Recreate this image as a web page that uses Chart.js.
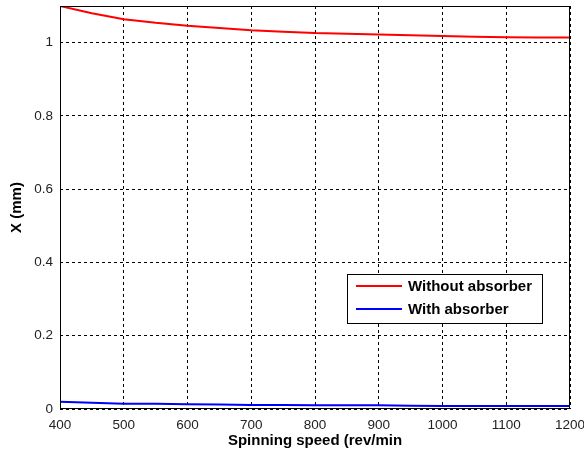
<!DOCTYPE html>
<html>
<head>
<meta charset="utf-8">
<script src="https://cdn.jsdelivr.net/npm/chart.js@4/dist/chart.umd.min.js"></script>
<style>
  html, body { margin: 0; padding: 0; background: #fff; }
  #wrap { width: 584px; height: 452px; }
</style>
</head>
<body>
<div id="wrap"><canvas id="chart"></canvas></div>
<script>
// spinning speed (rev/min)
const speeds = [400, 450, 500, 550, 600, 650, 700, 750, 800, 850, 900, 950, 1000, 1050, 1100, 1150, 1200];
// displacement X (mm)
const withoutAbsorber = [1.100, 1.080, 1.064, 1.054, 1.046, 1.040, 1.034, 1.030, 1.026, 1.024, 1.022, 1.020, 1.018, 1.016, 1.015, 1.014, 1.014];
const withAbsorber = [0.020, 0.017, 0.014, 0.014, 0.013, 0.012, 0.011, 0.011, 0.010, 0.010, 0.010, 0.009, 0.008, 0.008, 0.008, 0.008, 0.008];

const xTicks = [400, 500, 600, 700, 800, 900, 1000, 1100, 1200];
const yTicks = [0, 0.2, 0.4, 0.6, 0.8, 1];

const tickFont = { family: "Arial, 'Liberation Sans', sans-serif", size: 13.5 };
const boldFont = { family: "Arial, 'Liberation Sans', sans-serif", size: 15, weight: "bold" };

// box around the axes plus a legend inside, MATLAB style
const frameAndLegend = {
  id: "frameAndLegend",
  afterDraw(chart) {
    const { ctx, chartArea: a } = chart;
    ctx.save();
    ctx.strokeStyle = "#000";
    ctx.lineWidth = 1;
    ctx.strokeRect(a.left + 0.5, a.top + 0.5, a.right - a.left - 1, a.bottom - a.top - 1);

    const box = { x: 347, y: 274, w: 195, h: 49 };
    ctx.fillStyle = "#fff";
    ctx.fillRect(box.x, box.y, box.w, box.h);
    ctx.strokeRect(box.x + 0.5, box.y + 0.5, box.w, box.h);

    ctx.font = `bold ${boldFont.size}px ${boldFont.family}`;
    ctx.textBaseline = "middle";
    chart.data.datasets.forEach((ds, i) => {
      const y = box.y + 12 + i * 23;
      ctx.strokeStyle = ds.borderColor;
      ctx.lineWidth = 2;
      ctx.beginPath();
      ctx.moveTo(box.x + 9, y);
      ctx.lineTo(box.x + 55, y);
      ctx.stroke();
      ctx.fillStyle = "#000";
      ctx.fillText(ds.label, box.x + 61, y + 1);
    });
    ctx.restore();
  },
};

new Chart(document.getElementById("chart"), {
  type: "line",
  data: {
    labels: speeds,
    datasets: [
      {
        label: "Without absorber",
        data: withoutAbsorber,
        borderColor: "#ff0000",
        borderWidth: 2,
        pointRadius: 0,
        tension: 0,
      },
      {
        label: "With absorber",
        data: withAbsorber,
        borderColor: "#0000ff",
        borderWidth: 2,
        pointRadius: 0,
        tension: 0,
      },
    ],
  },
  options: {
    responsive: true,
    maintainAspectRatio: false,
    animation: false,
    events: [],
    layout: { padding: { top: 6, right: 14, left: 0, bottom: 0 } },
    plugins: {
      legend: { display: false },
      tooltip: { enabled: false },
    },
    scales: {
      x: {
        type: "linear",
        min: 400,
        max: 1200,
        afterBuildTicks: (scale) => {
          scale.ticks = xTicks.map((v) => ({ value: v }));
        },
        afterFit: (scale) => {
          scale.height = 43;
          scale.paddingLeft = 0;
          scale.paddingRight = 0;
        },
        grid: { color: "#000", lineWidth: 1, drawTicks: false },
        border: { display: false, dash: [3, 3] },
        ticks: {
          font: tickFont,
          color: "#222",
          padding: 8,
          maxRotation: 0,
          callback: (v) => String(v),
        },
        title: {
          display: true,
          text: "Spinning speed (rev/min",
          font: boldFont,
          color: "#000",
          padding: { top: 0, bottom: 2 },
        },
      },
      y: {
        min: 0,
        max: 1.1,
        afterBuildTicks: (scale) => {
          scale.ticks = yTicks.map((v) => ({ value: v }));
        },
        afterFit: (scale) => {
          scale.width = 60;
          scale.paddingTop = 0;
          scale.paddingBottom = 0;
        },
        grid: { color: "#000", lineWidth: 1, drawTicks: false },
        border: { display: false, dash: [3, 3] },
        ticks: {
          font: tickFont,
          color: "#222",
          padding: 7,
          callback: (v) => String(v),
        },
        title: {
          display: true,
          text: "X (mm)",
          font: boldFont,
          color: "#000",
          padding: { top: 8, bottom: 0 },
        },
      },
    },
  },
  plugins: [frameAndLegend],
});
</script>
</body>
</html>
